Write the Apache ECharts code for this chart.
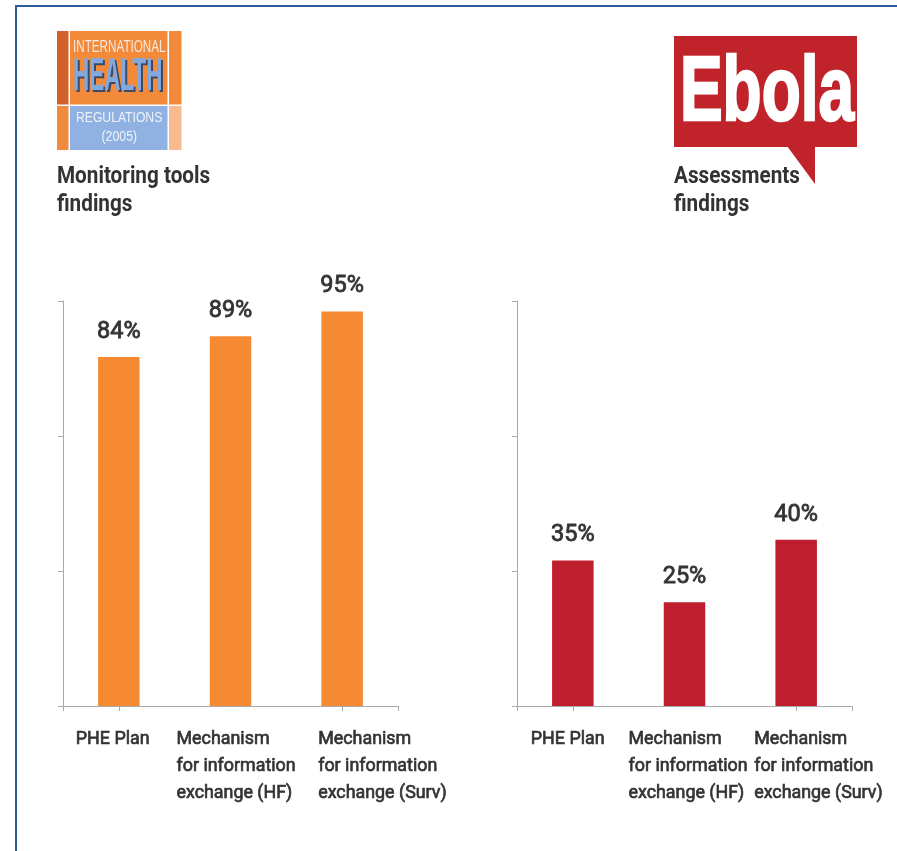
<!DOCTYPE html>
<html>
<head>
<meta charset="utf-8">
<script src="https://cdn.jsdelivr.net/npm/echarts@6/dist/echarts.min.js"></script>
<style>
html,body{margin:0;padding:0;background:#fff;}
#c{width:897px;height:851px;}
</style>
</head>
<body>
<div id="c"></div>
<script>
// ---- data ----
const categories = ['PHE Plan', 'Mechanism\nfor information\nexchange (HF)', 'Mechanism\nfor information\nexchange (Surv)'];
const monitoringValues = [84, 89, 95];
const assessmentValues = [35, 25, 40];
const leftTitle = 'Monitoring tools\nfindings';
const rightTitle = 'Assessments\nfindings';

// ---- styles ----
const ORANGE = '#f68a33';
const RED = '#be1e2d';
const AXIS = '#a8a8a8';
const TEXT = '#333333';
const labelOffsets = [[-43, -54, -24], [-42, -56, -42]];

const chart = echarts.init(document.getElementById('c'), null, {renderer: 'canvas'});

function catAxis(g) {
  return {type: 'category', gridIndex: g, data: categories,
    axisLine: {show: true, lineStyle: {color: AXIS, width: 1}},
    axisTick: {show: true, alignWithLabel: true, length: 5, lineStyle: {color: AXIS}},
    axisLabel: {show: false}, splitLine: {show: false}};
}
function endAxis(g) {
  return {type: 'value', gridIndex: g, min: 0, max: 1, interval: 1, position: 'bottom',
    axisLine: {show: false}, axisTick: {show: true, length: 5, lineStyle: {color: AXIS}},
    axisLabel: {show: false}, splitLine: {show: false}};
}
function valAxis(g) {
  return {type: 'value', gridIndex: g, min: 0, max: 97.5, interval: 32.5,
    axisLine: {show: true, lineStyle: {color: AXIS, width: 1}},
    axisTick: {show: true, length: 5, lineStyle: {color: AXIS}},
    axisLabel: {show: false}, splitLine: {show: false}};
}
function barSeries(ax, data, color) {
  return {type: 'bar', xAxisIndex: ax, yAxisIndex: ax, data: data, barWidth: 41.5,
    itemStyle: {color: color},
    label: {show: true, position: 'top', distance: 13, formatter: '{c}%',
      fontFamily: 'Roboto', fontWeight: 'normal', fontSize: 23.5, color: TEXT,
      textBorderColor: TEXT, textBorderWidth: 0.8}};
}

const graphics = [
  // frame
  {type: 'line', shape: {x1: 16, y1: 6, x2: 16, y2: 851}, style: {stroke: '#2d5a9b', lineWidth: 2}},
  {type: 'line', shape: {x1: 15, y1: 6, x2: 897, y2: 6}, style: {stroke: '#2d5a9b', lineWidth: 2}},
  // IHR logo
  {type: 'rect', shape: {x: 57, y: 31, width: 11.5, height: 73.5}, style: {fill: '#d0612b'}},
  {type: 'rect', shape: {x: 57, y: 106, width: 11.5, height: 44}, style: {fill: '#f08a3c'}},
  {type: 'rect', shape: {x: 70, y: 31, width: 97.5, height: 73.5}, style: {fill: '#f28a3a'}},
  {type: 'rect', shape: {x: 70, y: 106, width: 97.5, height: 44}, style: {fill: '#8fb2e3'}},
  {type: 'rect', shape: {x: 169, y: 31, width: 12.5, height: 73.5}, style: {fill: '#f28a3a'}},
  {type: 'rect', shape: {x: 169, y: 106, width: 12.5, height: 44}, style: {fill: '#f9ba8f'}},
  {type: 'text', x: 73, y: 47.5, scaleX: 0.73, style: {text: 'INTERNATIONAL', font: '16px "Liberation Sans"', fill: '#f7e8de', textVerticalAlign: 'middle'}},
  {type: 'text', x: 75, y: 79.5, scaleX: 0.51, scaleY: 1.03, style: {text: 'HEALTH', font: 'bold 44px "Liberation Sans"', fill: '#3b4a66', textVerticalAlign: 'middle'}},
  {type: 'text', x: 73, y: 77.5, scaleX: 0.51, scaleY: 1.03, style: {text: 'HEALTH', font: 'bold 44px "Liberation Sans"', fill: '#82a8de', textVerticalAlign: 'middle'}},
  {type: 'text', x: 76, y: 118, scaleX: 0.79, style: {text: 'REGULATIONS', font: '15.4px "Liberation Sans"', fill: '#eef2f8', textVerticalAlign: 'middle'}},
  {type: 'text', x: 101.5, y: 136.5, scaleX: 0.8, style: {text: '(2005)', font: '15.4px "Liberation Sans"', fill: '#eef2f8', textVerticalAlign: 'middle'}},
  // Ebola logo
  {type: 'rect', shape: {x: 674, y: 36, width: 183, height: 111}, style: {fill: '#c1232b'}},
  {type: 'polygon', shape: {points: [[787, 146], [815, 146], [815, 184]]}, style: {fill: '#c1232b'}},
  {type: 'text', x: 680, y: 95, scaleX: 0.71, style: {text: 'Ebola', font: 'bold 90px "Liberation Sans"', fill: '#ffffff', stroke: '#ffffff', lineWidth: 2.5, textVerticalAlign: 'middle'}},
  // titles
  {type: 'text', x: 57, y: 163, scaleX: 0.9, style: {text: leftTitle, font: 'bold 23px Roboto', lineHeight: 28, fill: TEXT, textVerticalAlign: 'top'}},
  {type: 'text', x: 674, y: 163, scaleX: 0.9, style: {text: rightTitle, font: 'bold 23px Roboto', lineHeight: 28, fill: TEXT, textVerticalAlign: 'top'}}
];

chart.setOption({
  animation: false,
  backgroundColor: '#ffffff',
  grid: [
    {left: 63, top: 301, width: 335, height: 405},
    {left: 517, top: 301, width: 335, height: 405}
  ],
  xAxis: [catAxis(0), catAxis(1), endAxis(0), endAxis(1)],
  yAxis: [valAxis(0), valAxis(1)],
  series: [barSeries(0, monitoringValues, ORANGE), barSeries(1, assessmentValues, RED)],
  graphic: graphics
});

// category labels placed from the axis scale
const catLabels = [];
[0, 1].forEach(function (ax) {
  categories.forEach(function (c, i) {
    const px = chart.convertToPixel({xAxisIndex: ax}, i);
    catLabels.push({type: 'text', x: px + labelOffsets[ax][i], y: 726, scaleX: 0.94,
      style: {text: c, font: '19px Roboto', lineHeight: 26.7, fill: TEXT,
        stroke: TEXT, lineWidth: 0.7, textVerticalAlign: 'top'}});
  });
});
chart.setOption({graphic: graphics.concat(catLabels)});
</script>
</body>
</html>
